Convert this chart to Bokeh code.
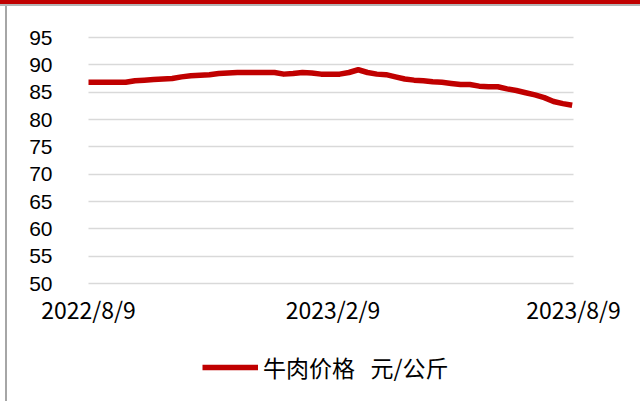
import pandas as pd
from bokeh.plotting import figure
from bokeh.models import FixedTicker, Range1d, Legend, LegendItem
from bokeh.embed import file_html
from bokeh.resources import INLINE

# ---- data ----
start_date = "2022-08-09"
end_date = "2023-08-09"
beef_price = [
    86.8, 86.8, 86.8, 86.8, 86.8, 87.1, 87.2, 87.3, 87.4, 87.5,
    87.8, 88.0, 88.1, 88.2, 88.4, 88.5, 88.6, 88.6, 88.6, 88.6,
    88.6, 88.3, 88.4, 88.6, 88.5, 88.3, 88.3, 88.3, 88.6, 89.1,
    88.6, 88.3, 88.2, 87.8, 87.4, 87.2, 87.1, 86.9, 86.8, 86.6,
    86.4, 86.4, 86.1, 86.0, 86.0, 85.6, 85.3, 84.9, 84.5, 84.0,
    83.3, 82.9, 82.6,
]
dates = pd.date_range(start_date, periods=len(beef_price), freq="7D")
tick_dates = ["2022-08-09", "2023-02-09", "2023-08-09"]
tick_labels = ["2022/8/9", "2023/2/9", "2023/8/9"]
y_ticks = [50, 55, 60, 65, 70, 75, 80, 85, 90, 95]
legend_label = "牛肉价格   元/公斤"

t0 = pd.Timestamp(start_date)
t1 = pd.Timestamp(end_date)
tick_ms = [pd.Timestamp(d).value // 10**6 for d in tick_dates]
t0_ms = t0.value // 10**6
t1_ms = t1.value // 10**6

# The plotting frame covers the whole canvas; the data area (x 88..573 px,
# y 37..283 px) is obtained through the ranges, axes are pinned with
# fixed_location and grid lines are bounded to the data span.
W, H = 640, 401
px_left, px_right = 88, 573
px_top, px_bottom = 37, 283
day_per_px = (t1 - t0) / (px_right - px_left)
x_start = t0 - day_per_px * px_left
x_end = t1 + day_per_px * (W - px_right)
unit_per_px = (y_ticks[-1] - y_ticks[0]) / (px_bottom - px_top)
y_top = y_ticks[-1] + unit_per_px * px_top
y_bottom = y_ticks[0] - unit_per_px * (H - px_bottom)

p = figure(
    width=W, height=H,
    x_axis_type="datetime",
    x_range=Range1d(x_start, x_end),
    y_range=Range1d(y_bottom, y_top),
    output_backend="svg", toolbar_location=None,
    min_border_left=0, min_border_right=0, min_border_top=0, min_border_bottom=0,
)
p.outline_line_color = None
p.border_fill_alpha = 0
p.background_fill_alpha = 0
p.styles = {
    "background": "linear-gradient(#c00000,#c00000) 0 0 / 100% 4px no-repeat, "
                  "linear-gradient(#b4b4b4,#b4b4b4) 0 4px / 100% 2px no-repeat, "
                  "linear-gradient(#a6a6a6,#a6a6a6) 5px 6px / 2px 100% no-repeat, white",
}

r = p.line(dates, beef_price, line_color="#c00000", line_width=5.5, line_join="round")

# axes
p.yaxis.fixed_location = t0_ms
p.yaxis.ticker = FixedTicker(ticks=y_ticks)
p.yaxis.axis_line_color = None
p.yaxis.major_tick_line_color = None
p.yaxis.minor_tick_line_color = None
p.yaxis.major_label_standoff = 30
p.yaxis.major_label_text_font = "Liberation Sans"
p.yaxis.major_label_text_font_size = "21px"
p.yaxis.major_label_text_color = "#000000"

p.xaxis.fixed_location = y_ticks[0]
p.xaxis.ticker = FixedTicker(ticks=tick_ms)
p.xaxis.major_label_overrides = {t: l for t, l in zip(tick_ms, tick_labels)}
p.xaxis.axis_line_color = None
p.xaxis.major_tick_line_color = None
p.xaxis.minor_tick_line_color = None
p.xaxis.major_label_standoff = 2
p.xaxis.major_label_text_font = "Noto Sans CJK SC"
p.xaxis.major_label_text_font_size = "23px"
p.xaxis.major_label_text_color = "#000000"

p.xgrid.grid_line_color = None
p.ygrid.ticker = FixedTicker(ticks=y_ticks)
try:
    p.ygrid.cross_bounds = (t0_ms, t1_ms)
except AttributeError:
    pass
p.ygrid.grid_line_color = "#d9d9d9"
p.ygrid.grid_line_width = 1.5

legend = Legend(items=[LegendItem(label=legend_label, renderers=[r])],
                location=(202, 17), orientation="horizontal")
legend.glyph_width = 56
legend.label_standoff = 5
legend.padding = 0
legend.margin = 0
legend.label_text_font = "Noto Sans CJK SC"
legend.label_text_font_size = "23px"
legend.label_text_color = "#000000"
legend.border_line_color = None
legend.background_fill_alpha = 0
p.add_layout(legend)

open("out.html", "w").write(file_html(p, INLINE))
